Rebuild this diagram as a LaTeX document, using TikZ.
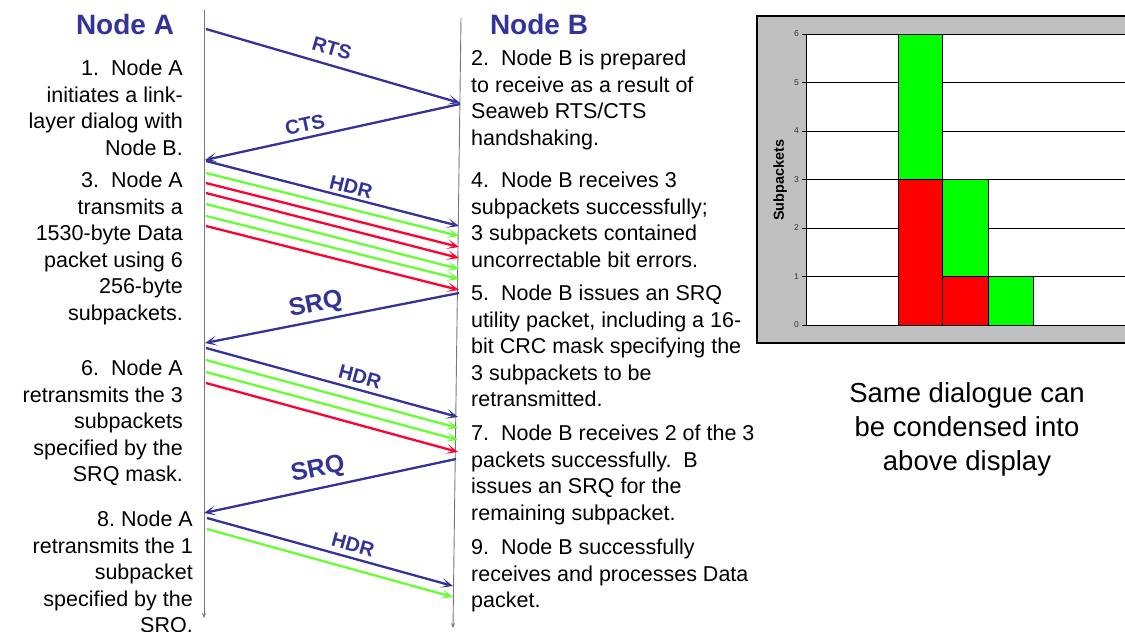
\documentclass[tikz,border=0pt]{standalone}
\usepackage{fontspec}
\setmainfont{Liberation Sans}
\usetikzlibrary{arrows.meta}
\definecolor{nblue}{RGB}{51,51,153}
\definecolor{ngreen}{RGB}{102,255,51}
\definecolor{nred}{RGB}{255,0,51}
\definecolor{lifegray}{RGB}{120,120,120}
\definecolor{chartgray}{RGB}{192,192,192}
\definecolor{bargreen}{RGB}{0,255,0}
\definecolor{barred}{RGB}{255,0,0}
\frenchspacing
\begin{document}
\begin{tikzpicture}[x=1pt,y=-1pt,
  body/.style={font=\fontsize{21.5}{26.5}\selectfont, inner sep=0pt},
  lefttxt/.style={body, align=right, anchor=north east},
  righttxt/.style={body, align=left, anchor=north west},
  title/.style={font=\fontsize{28}{32}\selectfont\bfseries, text=nblue, inner sep=0pt},
  lab/.style={font=\fontsize{20}{24}\selectfont\bfseries, text=nblue, inner sep=0pt},
  biglab/.style={font=\fontsize{25}{30}\selectfont\bfseries, text=nblue, inner sep=0pt},
  msg/.style={line width=2.3pt, -{Stealth[length=12pt,width=10pt,inset=7pt]}},
  bluemsg/.style={msg, draw=nblue},
  greenmsg/.style={msg, draw=ngreen},
  redmsg/.style={msg, draw=nred},
  life/.style={draw=lifegray, line width=0.9pt, -{Stealth[length=5pt,width=4pt]}},
  ticklab/.style={font=\fontsize{8.5}{10}\selectfont, inner sep=0pt, anchor=east, text=black!80},
  bar/.style={draw=black, line width=0.8pt}
]
\useasboundingbox (0,0) rectangle (1125,632);

% ---------- lifelines ----------
\coordinate (Atop) at (204,10);
\coordinate (Abot) at (204,618);
\coordinate (Btop) at (461,18);
\coordinate (Bbot) at (453,628);
\draw[life] (Atop) -- (Abot);
\draw[life] (Btop) -- (Bbot);

% ---------- titles ----------
\node[title] (titA) at (125,24) {Node A};
\node[title] (titB) at (539,24) {Node B};

% ---------- message end points ----------
\coordinate (rts1) at (206,29);   \coordinate (rts2) at (460,103);
\coordinate (cts1) at (460,104);  \coordinate (cts2) at (205,160);
\coordinate (h1a) at (206,161);   \coordinate (h1b) at (459,226);
\coordinate (d1a) at (206,173);   \coordinate (d1b) at (459,236);
\coordinate (d2a) at (206,183);   \coordinate (d2b) at (459,247);
\coordinate (d3a) at (206,193);   \coordinate (d3b) at (459,258);
\coordinate (d4a) at (206,204);   \coordinate (d4b) at (459,269);
\coordinate (d5a) at (206,216);   \coordinate (d5b) at (459,279);
\coordinate (d6a) at (206,226);   \coordinate (d6b) at (459,290);
\coordinate (s1a) at (459,293);   \coordinate (s1b) at (205,343);
\coordinate (h2a) at (206,348);   \coordinate (h2b) at (458,417);
\coordinate (e1a) at (206,360);   \coordinate (e1b) at (458,428);
\coordinate (e2a) at (206,372);   \coordinate (e2b) at (458,440);
\coordinate (e3a) at (206,383);   \coordinate (e3b) at (458,452);
\coordinate (s2a) at (456,459);   \coordinate (s2b) at (204,513);
\coordinate (h3a) at (207,518);   \coordinate (h3b) at (453,586);
\coordinate (f1a) at (207,529);   \coordinate (f1b) at (453,597);

% ---------- messages ----------
\draw[bluemsg] (rts1) -- (rts2);
\draw[bluemsg] (cts1) -- (cts2);
\draw[bluemsg] (h1a) -- (h1b);
\draw[greenmsg] (d1a) -- (d1b);
\draw[redmsg] (d2a) -- (d2b);
\draw[redmsg] (d3a) -- (d3b);
\draw[greenmsg] (d4a) -- (d4b);
\draw[greenmsg] (d5a) -- (d5b);
\draw[redmsg] (d6a) -- (d6b);
\draw[bluemsg] (s1a) -- (s1b);
\draw[bluemsg] (h2a) -- (h2b);
\draw[greenmsg] (e1a) -- (e1b);
\draw[greenmsg] (e2a) -- (e2b);
\draw[redmsg] (e3a) -- (e3b);
\draw[bluemsg] (s2a) -- (s2b);
\draw[bluemsg] (h3a) -- (h3b);
\draw[greenmsg] (f1a) -- (f1b);

% ---------- message labels ----------
\node[lab, rotate=-16.2] (lRTS) at (332,48) {RTS};
\node[lab, rotate=12.3] (lCTS) at (305,125) {CTS};
\node[lab, rotate=-14.3] (lHDR1) at (351,187) {HDR};
\node[biglab, rotate=11.1] (lSRQ1) at (316,305) {SRQ};
\node[lab, rotate=-15.3] (lHDR2) at (360,377) {HDR};
\node[biglab, rotate=12.1] (lSRQ2) at (318,470) {SRQ};
\node[lab, rotate=-15.5] (lHDR3) at (353,545) {HDR};

% ---------- Node A text ----------
\node[lefttxt] (p1) at (183,57.2) {\strut 1.\ \ Node A\\initiates a link-\\layer dialog with\\Node B.};
\node[lefttxt] (p3) at (183,169.2) {\strut 3.\ \ Node A\\transmits a\\1530-byte Data\\packet using 6\\256-byte\\subpackets.};
\node[lefttxt] (p6) at (183,357.2) {\strut 6.\ \ Node A\\retransmits the 3\\subpackets\\specified by the\\SRQ mask.};
\node[lefttxt] (p8) at (193,508.2) {\strut 8. Node A\\retransmits the 1\\subpacket\\specified by the\\SRQ.};

% ---------- Node B text ----------
\node[righttxt] (p2) at (471,47.2) {\strut 2.\ \ Node B is prepared\\to receive as a result of\\Seaweb RTS/CTS\\handshaking.};
\node[righttxt] (p4) at (471,169.2) {\strut 4.\ \ Node B receives 3\\subpackets successfully;\\3 subpackets contained\\uncorrectable bit errors.};
\node[righttxt] (p5) at (471,282.2) {\strut 5.\ \ Node B issues an SRQ\\utility packet, including a 16-\\bit CRC mask specifying the\\3 subpackets to be\\retransmitted.};
\node[righttxt] (p7) at (471,422.2) {\strut 7.\ \ Node B receives 2 of the 3\\packets successfully.\ \ B\\issues an SRQ for the\\remaining subpacket.};
\node[righttxt] (p9) at (471,536.2) {\strut 9.\ \ Node B successfully\\receives and processes Data\\packet.};

% ---------- chart ----------
\draw[fill=chartgray, draw=black, line width=1.5pt] (757,16) rectangle (1140,343);
\fill[white] (806,34) rectangle (1140,325);
\foreach \v in {1,...,6} {
  \draw[black, line width=0.8pt] (806,{325-48.5*\v}) -- (1130,{325-48.5*\v});
}
\draw[bar, fill=barred] (898,325) rectangle (942,179.5);
\draw[bar, fill=bargreen] (898,179.5) rectangle (942,34);
\draw[bar, fill=barred] (942,325) rectangle (988,276.5);
\draw[bar, fill=bargreen] (942,276.5) rectangle (988,179.5);
\draw[bar, fill=bargreen] (988,325) rectangle (1033,276.5);
\draw[black, line width=0.9pt] (806,34) -- (806,325) -- (1130,325);
\foreach \v in {0,...,6} {
  \draw[black, line width=0.8pt] (802,{325-48.5*\v}) -- (806,{325-48.5*\v});
  \node[ticklab] (tk\v) at (799,{325-48.5*\v}) {\v};
}
\node[font=\fontsize{14.5}{17}\selectfont\bfseries, rotate=90, inner sep=0pt] (ylab) at (780,180) {Subpackets};

% ---------- caption ----------
\node[font=\fontsize{27.5}{34}\selectfont, align=center, anchor=north, inner sep=0pt] (cap) at (967,378) {\strut Same dialogue can\\be condensed into\\above display};
\end{tikzpicture}
\end{document}
